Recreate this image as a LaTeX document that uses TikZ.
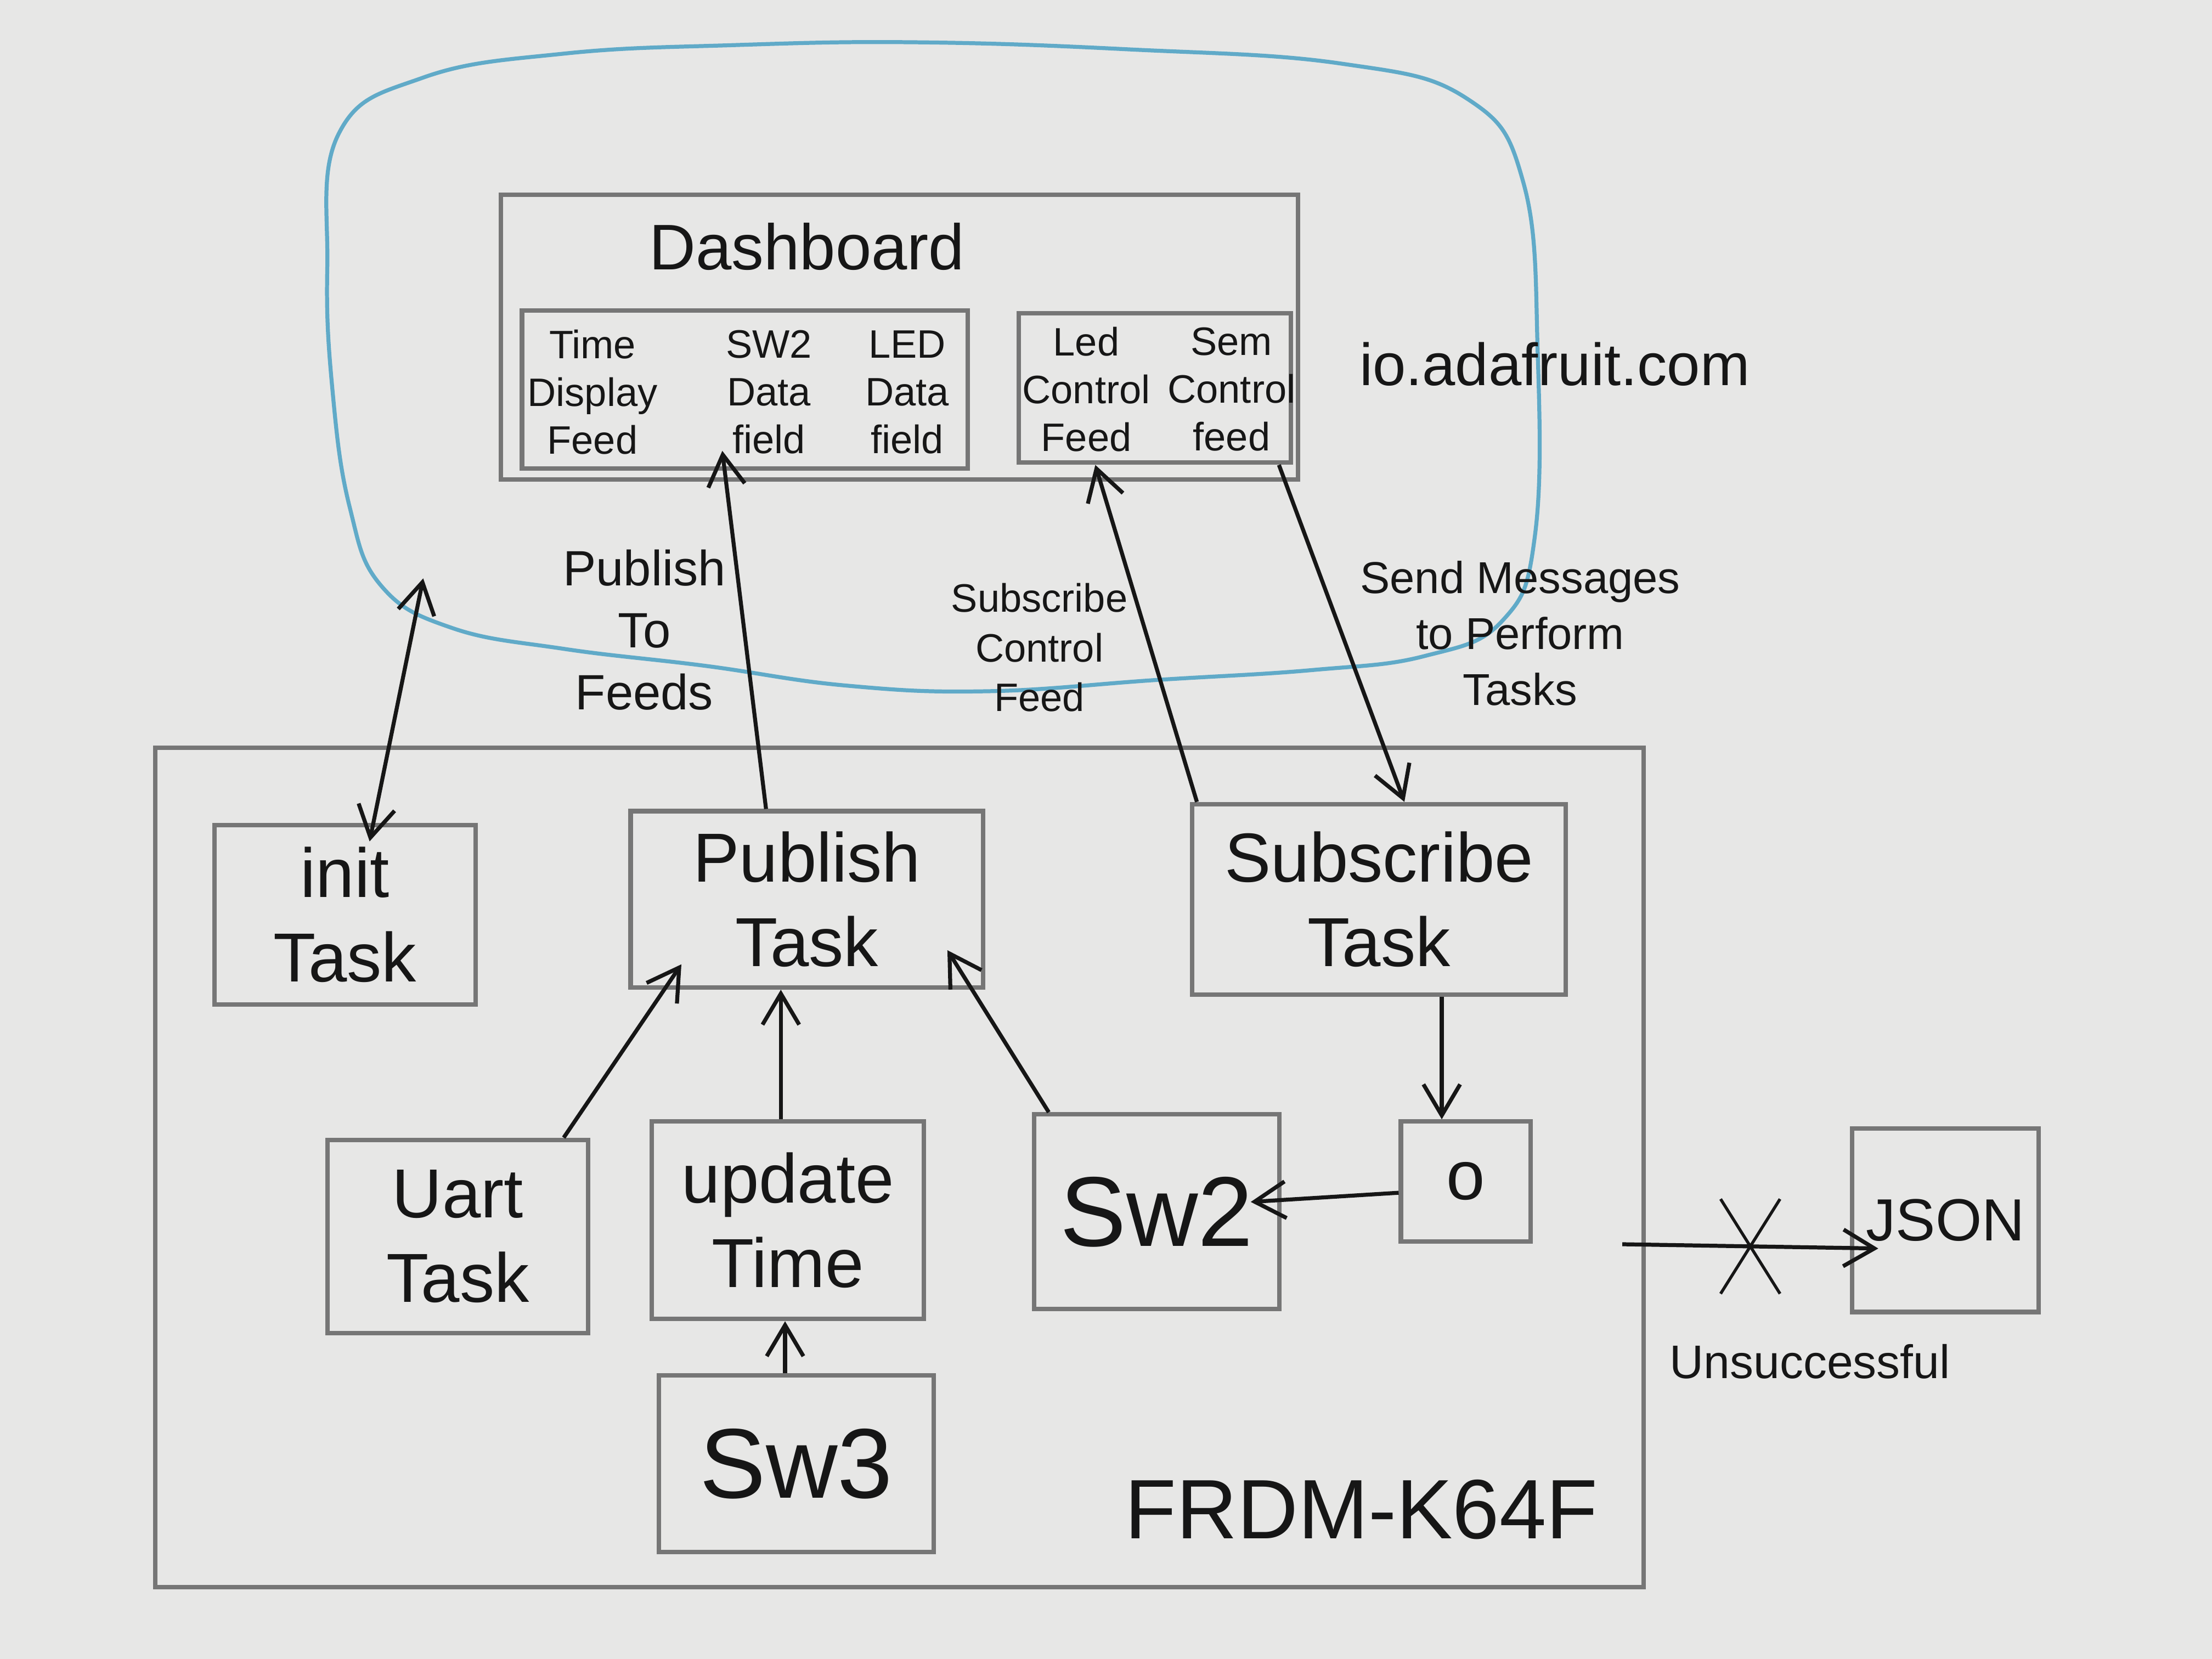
\documentclass[tikz,border=0pt]{standalone}
\usepackage{fontspec}
\setmainfont{Liberation Sans}
\usetikzlibrary{arrows.meta, calc, shapes.misc}

\definecolor{paper}{RGB}{231,231,230}
\definecolor{pencil}{RGB}{118,118,118}
\definecolor{ink}{RGB}{22,22,22}
\definecolor{cloudblue}{RGB}{96,170,200}

\tikzset{
  box/.style 2 args={draw=pencil, line width=0.9pt, minimum width=#1cm, minimum height=#2cm, inner sep=2pt, align=center},
  task/.style={font=\fontsize{14}{17}\selectfont},
  swbox/.style={font=\fontsize{20}{22}\selectfont},
  feed/.style={font=\fontsize{8}{9.6}\selectfont, align=center, inner sep=1pt},
  lbl/.style={font=\fontsize{#1}{\the\dimexpr #1pt*5/4\relax}\selectfont, align=center},
}

\begin{document}
\begin{tikzpicture}[thick, ink, >={Straight Barb[length=2.2mm, width=2.6mm]}]
  \fill[paper] (0,0) rectangle (15.68,-11.76);
  \useasboundingbox (0,0) rectangle (15.68,-11.76);

  % io.adafruit.com cloud
  \draw[cloudblue, line width=0.8pt] plot[smooth cycle, tension=0.7] coordinates {(2.40,-0.95) (3.00,-0.55) (4.00,-0.38) (5.20,-0.32) (6.50,-0.30) (8.00,-0.35) (9.50,-0.45) (10.40,-0.70) (10.80,-1.30) (10.90,-2.50) (10.88,-3.80) (10.65,-4.40) (10.10,-4.65) (9.30,-4.75) (8.20,-4.82) (7.00,-4.90) (6.00,-4.86) (5.00,-4.72) (4.00,-4.60) (3.20,-4.45) (2.70,-4.15) (2.48,-3.60) (2.36,-2.80) (2.32,-1.90)};
  \node[lbl=12] (cloudlbl) at (11.02,-2.58) {io.adafruit.com};

  \node[box={5.65}{2.02}] (dash) at (6.375,-2.39) {};
  \node[lbl=13] (dashlbl) at (5.72,-1.75) {Dashboard};
  \node[box={3.16}{1.12}] (feedsA) at (5.28,-2.76) {};
  \node[box={1.93}{1.06}] (feedsB) at (8.185,-2.75) {};
  \node[feed] (timefeed) at (4.20,-2.78) {Time\\Display\\Feed};
  \node[feed] (swfeed) at (5.45,-2.78) {SW2\\Data\\field};
  \node[feed] (ledfeed) at (6.43,-2.78) {LED\\Data\\field};
  \node[feed] (ledctrl) at (7.70,-2.76) {Led\\Control\\Feed};
  \node[feed] (semctrl) at (8.73,-2.76) {Sem\\Control\\feed};

  % board and its tasks
  \node[box={10.55}{5.95}] (board) at (6.375,-8.275) {};
  \node[lbl=17] (boardlbl) at (9.65,-10.70) {FRDM-K64F};
  \node[box={1.85}{1.27}, task] (init) at (2.445,-6.485) {init\\Task};
  \node[box={2.50}{1.25}, task] (pub) at (5.72,-6.375) {Publish\\Task};
  \node[box={2.65}{1.35}, task] (sub) at (9.775,-6.375) {Subscribe\\Task};
  \node[box={1.85}{1.37}, task] (uart) at (3.245,-8.765) {Uart\\Task};
  \node[box={1.93}{1.40}, task] (upd) at (5.585,-8.65) {update\\Time};
  \node[box={1.74}{1.38}, swbox] (swtwo) at (8.20,-8.59) {Sw2};
  \node[box={0.92}{0.85}, task] (obox) at (10.39,-8.375) {o};
  \node[box={1.95}{1.25}, swbox] (swthree) at (5.645,-10.375) {Sw3};
  \node[box={1.32}{1.30}, lbl=12] (json) at (13.79,-8.65) {JSON};

  \coordinate (cloudend) at (3.00,-4.10);
  \coordinate (xstart) at (11.50,-8.82);

  \draw[<->] (cloudend) -- ([xshift=1.75mm, yshift=-1.3mm]init.north);
  \draw[->] ([xshift=-2.9mm]pub.north) -- node[midway, left, lbl=10] {Publish\\To\\Feeds} ([shift={(-0.16,0.14)}]feedsA.south);
  \draw[->] ([xshift=0.5mm]sub.north west) -- node[midway, left, yshift=-1mm, lbl=8] {Subscribe\\Control\\Feed} ([xshift=5.6mm]feedsB.south west);
  \draw[->] ([xshift=-1mm]feedsB.south east) -- node[midway, right, lbl=9] {Send Messages\\to Perform\\Tasks} ([xshift=1.8mm]sub.north);
  \draw[->] ([xshift=-1.9mm]uart.north east) -- ([shift={(-0.89,0.18)}]pub.south);
  \draw[->] ([xshift=-0.5mm]upd.north) -- ([xshift=-0.5mm]upd.north |- pub.south);
  \draw[->] ([xshift=1.2mm]swtwo.north west) -- ([shift={(-0.27,0.28)}]pub.south east);
  \draw[->] ([xshift=-0.8mm]swthree.north) -- ([xshift=-0.8mm]swthree.north |- upd.south);
  \draw[->] ([xshift=-1.7mm]obox.north |- sub.south) -- ([xshift=-1.7mm]obox.north);
  \draw[->] ([yshift=-0.8mm]obox.west) -- ([shift={(-0.22,0.07)}]swtwo.east);
  \draw[->] (xstart) -- node[midway, cross out, draw, line width=0.6pt, minimum width=4mm, minimum height=6.5mm] {} ([shift={(0.2,-0.2)}]json.west);
  \node[lbl=9.5] (fail) at (12.83,-9.65) {Unsuccessful};
\end{tikzpicture}
\end{document}
